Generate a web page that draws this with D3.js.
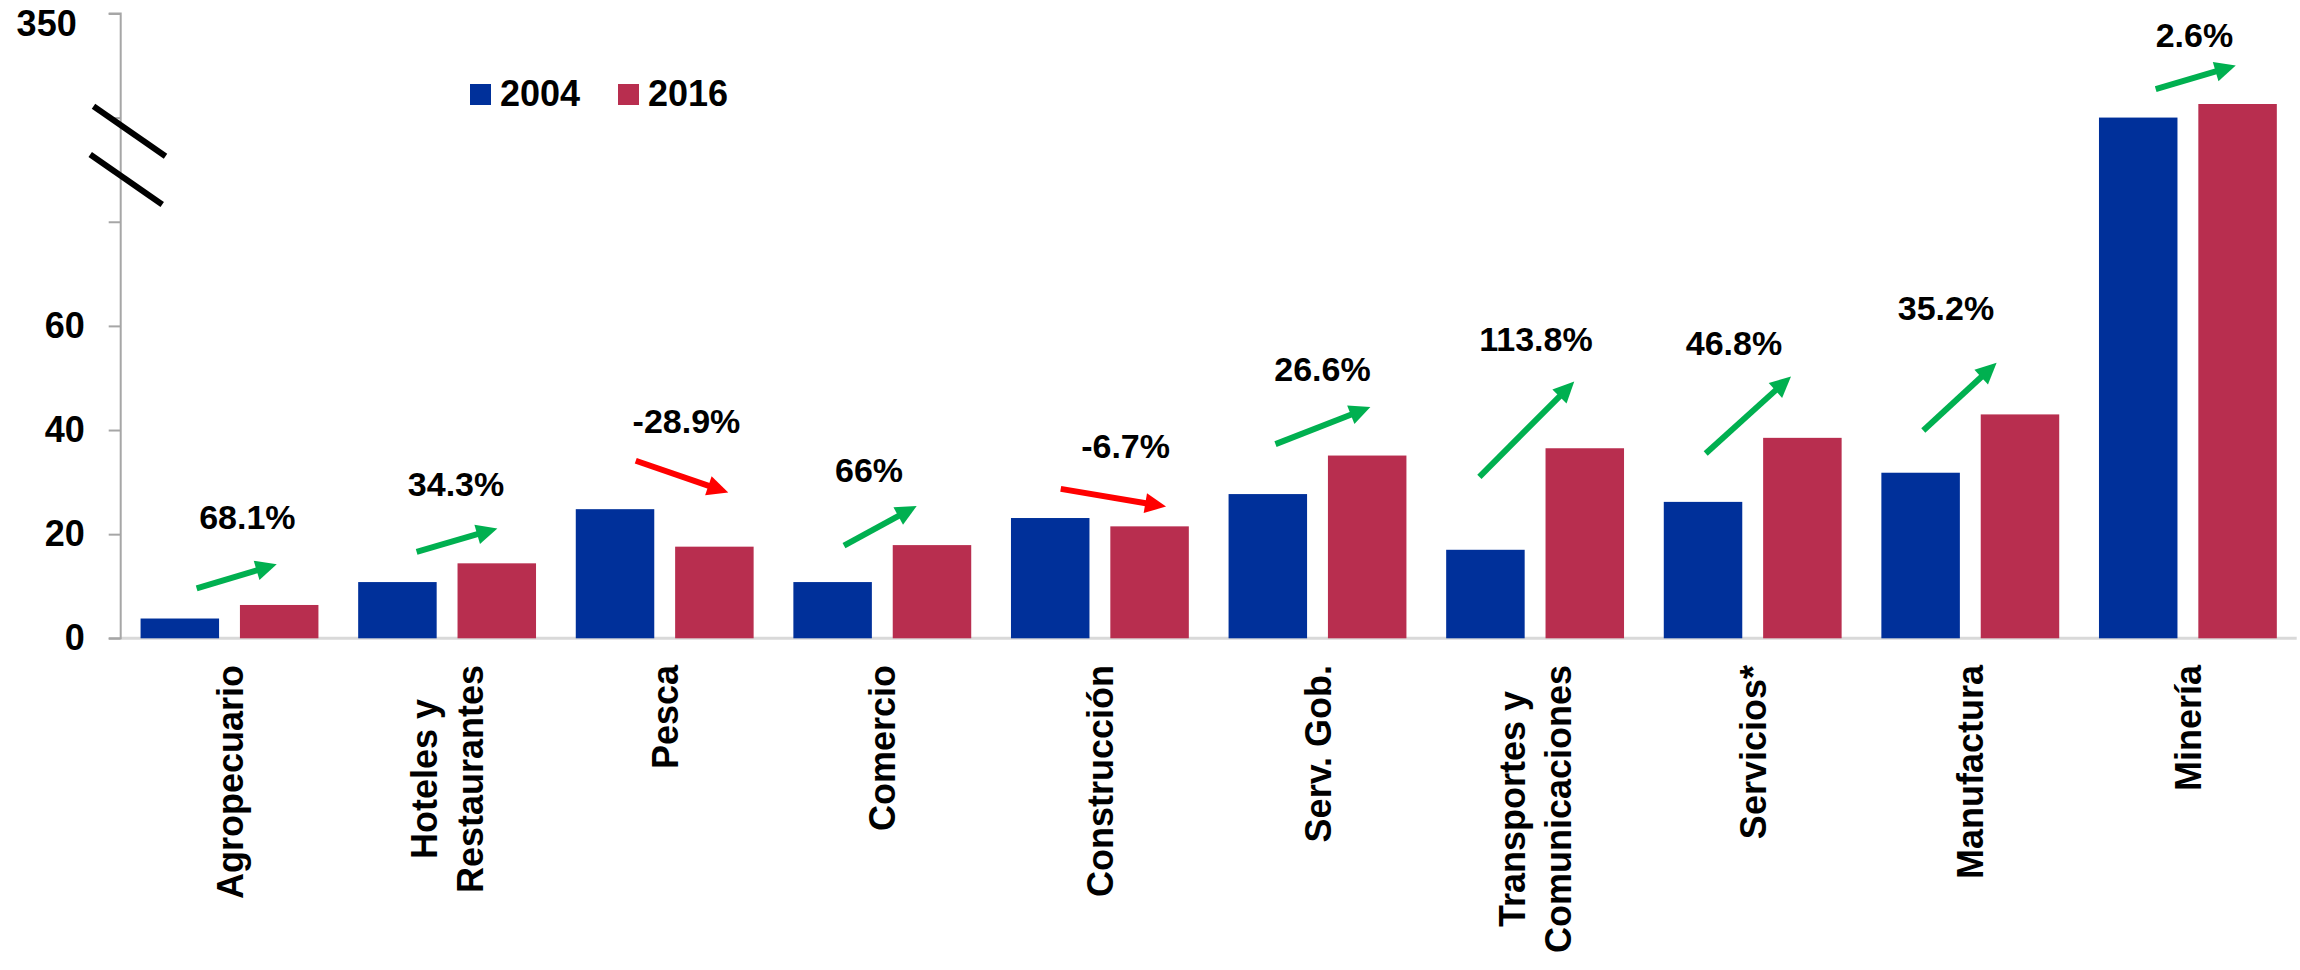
<!DOCTYPE html>
<html>
<head>
<meta charset="utf-8">
<script src="https://cdn.jsdelivr.net/npm/d3@7"></script>
<style>
  html, body { margin: 0; padding: 0; background: #ffffff; }
  svg { display: block; }
  text { font-family: "Liberation Sans", Arial, sans-serif; font-weight: bold; fill: #000; }
</style>
</head>
<body>
<svg id="chart" width="2300" height="970"></svg>
<script>
// ---------------- DATA ----------------
const categories = ["Agropecuario", "Hoteles y\nRestaurantes", "Pesca", "Comercio", "Construcción",
                    "Serv. Gob.", "Transportes y\nComunicaciones", "Servicios*", "Manufactura", "Minería"];
const seriesNames = ["2004", "2016"];
const values2004 = [3.8, 10.8, 24.8, 10.8, 23.1, 27.7, 17.0, 26.2, 31.8, 291.7];
const values2016 = [6.4, 14.4, 17.6, 17.9, 21.5, 35.1, 36.5, 38.5, 43.0, 299.3];
const growthLabels = ["68.1%", "34.3%", "-28.9%", "66%", "-6.7%", "26.6%", "113.8%", "46.8%", "35.2%", "2.6%"];
// arrow annotations: [band fraction start, value start, band fraction end, value end]
const arrowStart = [[0.349, 9.6], [0.360, 16.6], [0.367, 34.1], [0.324, 17.8], [0.320, 28.7],
                    [0.307, 37.3], [0.244, 31.0], [0.284, 35.5], [0.284, 39.9], [0.352, 307.6]];
const arrowEnd   = [[0.717, 14.2], [0.731, 21.1], [0.792, 28.0], [0.658, 25.4], [0.804, 25.3],
                    [0.743, 44.4], [0.680, 49.3], [0.676, 50.3], [0.621, 52.9], [0.720, 320.8]];
// growth label anchors: [band fraction center, value at baseline]
const labelPos = [[0.582, 20.9], [0.541, 27.3], [0.600, 39.4], [0.439, 30.1], [0.618, 34.6],
                  [0.523, 49.4], [0.504, 55.2], [0.414, 54.4], [0.388, 61.1], [0.530, 331.4]];
const yTickValues = [0, 20, 40, 60, 80, 291.67, 350];
const yTickLabels = ["0", "20", "40", "60", "", "", "350"];
const breakValues = [284, 257];   // where the axis-break slashes sit

// ---------------- LAYOUT ----------------
const colors = { "2004": "#00309A", "2016": "#B82E4F" };
const upColor = "#00B050", downColor = "#FF0000";
const left = 120.7, right = 2296.7;
const yZero = 638.3, pxPerUnit = 5.2067;

const svg = d3.select("#chart");

const x = d3.scaleBand().domain(d3.range(categories.length)).range([left, right]).paddingInner(0).paddingOuter(0);
const xs = d3.scaleBand().domain(seriesNames).range([0, x.bandwidth()]).paddingInner(0.21).paddingOuter(0.2);

// broken axis: 0..80 linear, then jump, upper part proportional (350 at top)
const L = v => yZero - v * pxPerUnit;
const y = d3.scaleLinear()
  .domain([0, 80, 233.33, 350])
  .range([L(0), L(80), L(80), L(120)]);

// ---------------- AXES ----------------
// x axis baseline
svg.append("line")
  .attr("x1", left).attr("x2", right)
  .attr("y1", y(0)).attr("y2", y(0))
  .attr("stroke", "#D9D9D9").attr("stroke-width", 3);

const yAxis = d3.axisLeft(y).tickValues(yTickValues).tickSize(12).tickPadding(24)
  .tickFormat((d, i) => yTickLabels[i]);
const gy = svg.append("g").attr("transform", `translate(${left},0)`).call(yAxis);
gy.select(".domain").attr("stroke", "#A6A6A6").attr("stroke-width", 2).attr("d", `M-12,${y(350)}H0V${y(0)}H-12`);
gy.selectAll(".tick line").attr("stroke", "#A6A6A6").attr("stroke-width", 2);
gy.selectAll(".tick text")
  .style("font-family", '"Liberation Sans", Arial, sans-serif')
  .style("font-weight", "bold").style("font-size", "36px").attr("fill", "#000");
gy.selectAll(".tick").filter(d => d === 350).select("text").attr("x", -44).attr("dy", "0.62em");

// axis break slashes
breakValues.forEach((v, i) => {
  const cx = left + (i === 0 ? 8.8 : 5.5), cy = y(v);
  svg.append("line")
    .attr("x1", cx - 36).attr("y1", cy - 25).attr("x2", cx + 36).attr("y2", cy + 25)
    .attr("stroke", "#000").attr("stroke-width", 6);
});

// ---------------- BARS ----------------
const rows = categories.map((c, i) => ({ i, "2004": values2004[i], "2016": values2016[i] }));
const groups = svg.append("g").selectAll("g").data(rows).join("g")
  .attr("transform", d => `translate(${x(d.i)},0)`);
groups.selectAll("rect").data(d => seriesNames.map(s => ({ s, v: d[s] }))).join("rect")
  .attr("x", d => xs(d.s)).attr("width", xs.bandwidth())
  .attr("y", d => y(d.v)).attr("height", d => y(0) - y(d.v))
  .attr("fill", d => colors[d.s]);

// ---------------- CATEGORY LABELS ----------------
const labelTop = 665, lineH = 46;
categories.forEach((c, i) => {
  const cx = x(i) + x.bandwidth() / 2;
  const lines = c.split("\n");
  const g = svg.append("g").attr("transform", `translate(${cx},${labelTop}) rotate(-90)`);
  const texts = lines.map((ln, k) => g.append("text")
    .attr("text-anchor", "middle")
    .attr("y", 13 + (k - (lines.length - 1) / 2) * lineH)
    .style("font-size", "36px")
    .text(ln));
  const maxLen = d3.max(texts, t => t.node().getComputedTextLength());
  texts.forEach(t => t.attr("x", -maxLen / 2));
});

// ---------------- GROWTH ARROWS & LABELS ----------------
function arrow(x1, y1, x2, y2, color) {
  const dx = x2 - x1, dy = y2 - y1, len = Math.hypot(dx, dy);
  const ux = dx / len, uy = dy / len, head = 21, hw = 10;
  const bx = x2 - ux * head, by = y2 - uy * head;
  svg.append("line").attr("x1", x1).attr("y1", y1).attr("x2", bx + ux * 2).attr("y2", by + uy * 2)
    .attr("stroke", color).attr("stroke-width", 6);
  svg.append("path")
    .attr("d", `M${x2},${y2}L${bx - uy * hw},${by + ux * hw}L${bx + uy * hw},${by - ux * hw}Z`)
    .attr("fill", color);
}
categories.forEach((c, i) => {
  const bw = x.bandwidth();
  const [fs, vs] = arrowStart[i], [fe, ve] = arrowEnd[i];
  const col = values2016[i] >= values2004[i] ? upColor : downColor;
  arrow(x(i) + fs * bw, y(vs), x(i) + fe * bw, y(ve), col);
  const [fl, vl] = labelPos[i];
  svg.append("text").attr("x", x(i) + fl * bw).attr("y", y(vl))
    .attr("text-anchor", "middle").style("font-size", "34px").text(growthLabels[i]);
});

// ---------------- LEGEND ----------------
const legend = svg.append("g").attr("transform", "translate(470,84)");
seriesNames.forEach((s, k) => {
  const g = legend.append("g").attr("transform", `translate(${k * 148},0)`);
  g.append("rect").attr("width", 21).attr("height", 21).attr("fill", colors[s]);
  g.append("text").attr("x", 30).attr("y", 22).style("font-size", "36px").text(s);
});
</script>
</body>
</html>
